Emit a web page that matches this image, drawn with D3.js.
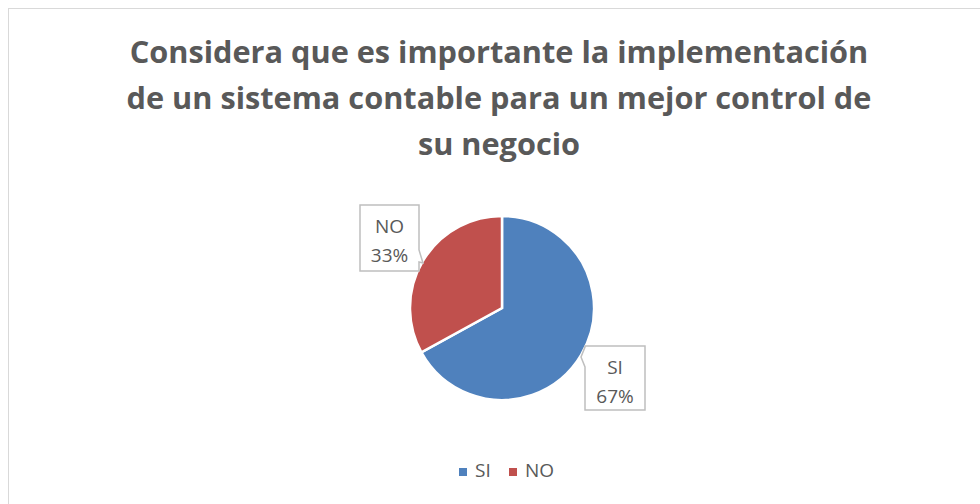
<!DOCTYPE html>
<html>
<head>
<meta charset="utf-8">
<script src="https://cdn.jsdelivr.net/npm/d3@7"></script>
<style>
  body { margin: 0; background: #fff; }
  svg text { font-family: "Open Sans", "Noto Sans", sans-serif; fill: #595959; }
</style>
</head>
<body>
<svg id="chart"></svg>
<script>
const categories = ["SI", "NO"];
const values = [67, 33];
const colors = ["#4F81BD", "#C0504D"];
const titleLines = [
  "Considera que es importante la implementación",
  "de un sistema contable para un mejor control de",
  "su negocio"
];

const width = 980;
const height = 504;

const svg = d3.select("#chart")
  .attr("width", width)
  .attr("height", height);

// chart frame
svg.append("rect")
  .attr("x", 8.5).attr("y", 8.5)
  .attr("width", 990).attr("height", 520)
  .attr("fill", "#fff")
  .attr("stroke", "#d9d9d9");

// title, fitted to the reference width
const title = svg.append("g");
const tl = title.selectAll("text")
  .data(titleLines)
  .join("text")
  .attr("x", 499)
  .attr("y", (d, i) => 63 + i * 46)
  .attr("text-anchor", "middle")
  .attr("font-weight", "bold")
  .attr("font-size", 30)
  .text(d => d);
const w0 = tl.node().getComputedTextLength();
tl.attr("font-size", 30 * 739 / w0);

// pie
const cx = 502, cy = 308, r = 92;
const data = categories.map((c, i) => ({ name: c, value: values[i], color: colors[i] }));
const pie = d3.pie().sort(null).value(d => d.value);
const arc = d3.arc().innerRadius(0).outerRadius(r);

const g = svg.append("g").attr("transform", `translate(${cx},${cy})`);
g.selectAll("path")
  .data(pie(data))
  .join("path")
  .attr("d", arc)
  .attr("fill", d => d.data.color)
  .attr("stroke", "#fff")
  .attr("stroke-width", 2.5);

// data label callouts
const labelBoxes = {
  SI: { x: 585, y: 346, w: 60, h: 64, side: "left", py0: 347, py1: 367, tx: 581, ty: 357 },
  NO: { x: 360, y: 205, w: 59, h: 66, side: "right", py0: 250, py1: 262, tx: 423, ty: 263 }
};

data.forEach(d => {
  const b = labelBoxes[d.name];
  const p = d3.path();
  if (b.side === "right") {
    p.moveTo(b.x, b.y);
    p.lineTo(b.x + b.w, b.y);
    p.lineTo(b.x + b.w, b.py0);
    p.lineTo(b.tx, b.ty);
    p.lineTo(b.x + b.w, b.py1);
    p.lineTo(b.x + b.w, b.y + b.h);
    p.lineTo(b.x, b.y + b.h);
    p.closePath();
  } else {
    p.moveTo(b.x, b.y);
    p.lineTo(b.x + b.w, b.y);
    p.lineTo(b.x + b.w, b.y + b.h);
    p.lineTo(b.x, b.y + b.h);
    p.lineTo(b.x, b.py1);
    p.lineTo(b.tx, b.ty);
    p.lineTo(b.x, b.py0);
    p.closePath();
  }
  svg.append("path")
    .attr("d", p.toString())
    .attr("fill", "#fff")
    .attr("stroke", "#bfbfbf")
    .attr("stroke-width", 1.5);
  const pct = Math.round(d.value / d3.sum(values) * 100) + "%";
  svg.append("text")
    .attr("x", b.x + b.w / 2)
    .attr("y", b.y + 28)
    .attr("text-anchor", "middle")
    .attr("font-size", 19)
    .text(d.name);
  svg.append("text")
    .attr("x", b.x + b.w / 2)
    .attr("y", b.y + 57)
    .attr("text-anchor", "middle")
    .attr("font-size", 19)
    .text(pct);
});

// legend
const legendX = [459, 509];
const legend = svg.append("g");
data.forEach((d, i) => {
  legend.append("rect")
    .attr("x", legendX[i])
    .attr("y", 468)
    .attr("width", 8).attr("height", 8)
    .attr("fill", d.color);
  legend.append("text")
    .attr("x", legendX[i] + 16)
    .attr("y", 477)
    .attr("font-size", 19)
    .text(d.name);
});
</script>
</body>
</html>
